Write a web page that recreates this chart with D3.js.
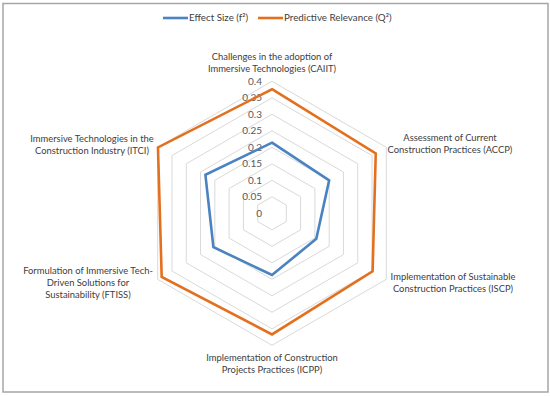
<!DOCTYPE html>
<html><head><meta charset="utf-8">
<script src="https://cdn.jsdelivr.net/npm/d3@7"></script>
<style>html,body{margin:0;padding:0;background:#fff;}svg{display:block;font-family:Lato,"Open Sans",sans-serif;}</style>
</head><body>
<svg id="c" width="550" height="396"></svg>
<script>
const categories = [
  ["Challenges in the adoption of","Immersive Technologies (CAIIT)"],
  ["Assessment of Current","Construction Practices (ACCP)"],
  ["Implementation of Sustainable","Construction Practices (ISCP)"],
  ["Implementation of Construction","Projects Practices (ICPP)"],
  ["Formulation of Immersive Tech-","Driven Solutions for","Sustainability (FTISS)"],
  ["Immersive Technologies in the","Construction Industry (ITCI)"]
];
const effectSize = [0.214, 0.2, 0.155, 0.187, 0.205, 0.233];
const predictiveRelevance = [0.376, 0.363, 0.352, 0.367, 0.386, 0.399];
const tickValues = [0, 0.05, 0.1, 0.15, 0.2, 0.25, 0.3, 0.35, 0.4];
const tickLabels = ["0","0.05","0.1","0.15","0.2","0.25","0.3","0.35","0.4"];
const seriesNames = ["Effect Size (f\u00B2)", "Predictive Relevance (Q\u00B2)"];
const seriesColors = ["#4a82c2", "#e3701f"];

const svg = d3.select("#c");
// border
svg.append("rect").attr("x",3).attr("y",3.5).attr("width",545).attr("height",388.5)
  .attr("fill","none").attr("stroke","#a6a6a6").attr("stroke-width",1.5);

const cx = 272, cy = 213.3;
const r = d3.scaleLinear().domain([0,0.4]).range([0,132]);
const n = categories.length;
const ang = i => i * 2*Math.PI/n;
const pt = (i,v) => [cx + r(v)*Math.sin(ang(i)), cy - r(v)*Math.cos(ang(i))];

// grid rings
const g = svg.append("g");
tickValues.slice(1).forEach(t => {
  g.append("polygon")
    .attr("points", d3.range(n).map(i => pt(i,t).join(",")).join(" "))
    .attr("fill","none").attr("stroke","#d9d9d9").attr("stroke-width",1);
});

// tick labels
tickValues.forEach((t,k) => {
  svg.append("text").attr("x", cx - 10).attr("y", cy - r(t)).attr("dy","0.35em")
    .attr("text-anchor","end").attr("font-size","10px").attr("fill","#595959")
    .text(tickLabels[k]);
});

// series
const line = d3.line().curve(d3.curveLinearClosed);
[effectSize, predictiveRelevance].forEach((vals, s) => {
  svg.append("path").attr("d", line(vals.map((v,i)=>pt(i,v))))
    .attr("fill","none").attr("stroke",seriesColors[s]).attr("stroke-width",2.6)
    .attr("stroke-linejoin","miter");
});

// category labels
const labelPos = [[272,59.5],[450,141],[453,279.5],[272,360.5],[88,274],[92,141.5]];
categories.forEach((lines,i) => {
  const t = svg.append("text").attr("text-anchor","middle").attr("font-size","9.4px").attr("fill","#404040");
  lines.forEach((l,j) => {
    t.append("tspan").attr("x", labelPos[i][0]).attr("y", labelPos[i][1] + j*12).text(l);
  });
});

// legend
const leg = [[163,188],[258,283]];
seriesNames.forEach((nm,s) => {
  svg.append("line").attr("x1",leg[s][0]).attr("x2",leg[s][1]).attr("y1",18).attr("y2",18)
    .attr("stroke",seriesColors[s]).attr("stroke-width",2.6);
  svg.append("text").attr("x",leg[s][1]+1).attr("y",18).attr("dy","0.35em")
    .attr("font-size","9.8px").attr("fill","#404040").text(nm);
});
</script>
</body></html>
